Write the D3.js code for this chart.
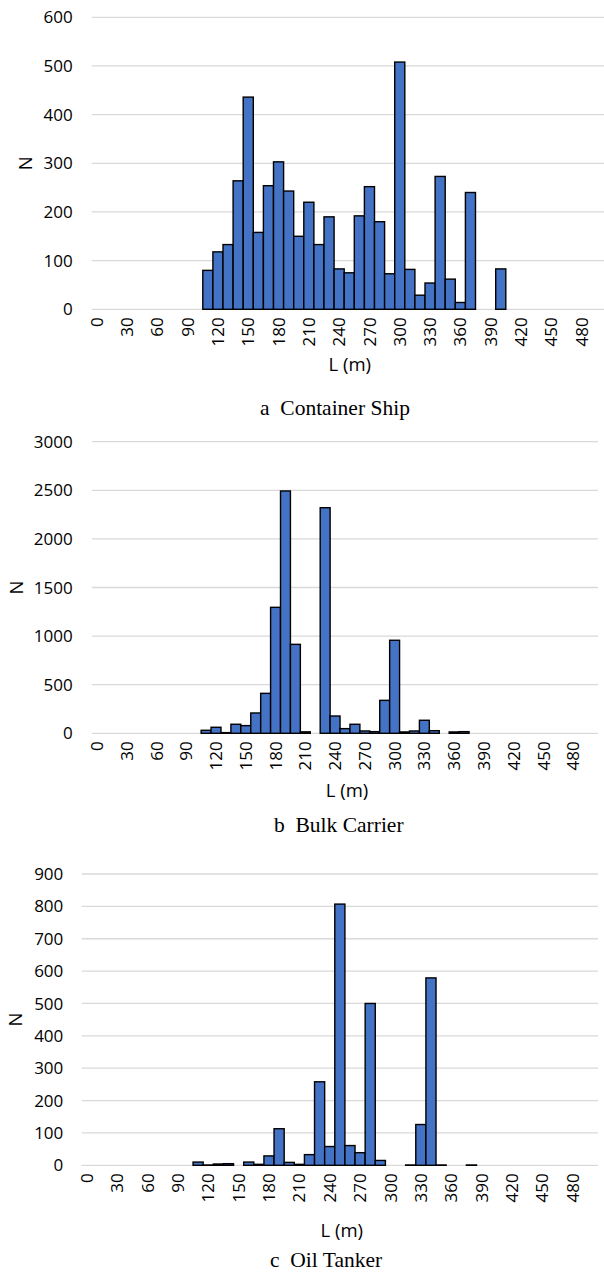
<!DOCTYPE html>
<html>
<head>
<meta charset="utf-8">
<script src="https://cdn.jsdelivr.net/npm/d3@7"></script>
<style>
  html, body { margin: 0; padding: 0; background: #fff; }
  svg { display: block; }
  .tick-label { font-family: "Open Sans", sans-serif; font-size: 17px; fill: #000; }
  .axis-title { font-family: "Open Sans", sans-serif; font-size: 18.5px; fill: #000; }
  .caption { font-family: "Liberation Serif", "Times New Roman", serif; font-size: 21.5px; fill: #000; white-space: pre; }
</style>
</head>
<body>
<svg id="chart" width="604" height="1273"></svg>
<script>
// Length classes (m), 10 m bins
const lengths = [0, 10, 20, 30, 40, 50, 60, 70, 80, 90,
  100, 110, 120, 130, 140, 150, 160, 170, 180, 190,
  200, 210, 220, 230, 240, 250, 260, 270, 280, 290,
  300, 310, 320, 330, 340, 350, 360, 370, 380, 390,
  400, 410, 420, 430, 440, 450, 460, 470, 480, 490, 500];

// Labelled length ticks
const lengthTicks = [0, 30, 60, 90, 120, 150, 180, 210, 240, 270, 300, 330, 360, 390, 420, 450, 480];

// Number of ships per length class
const containerShip = [0, 0, 0, 0, 0, 0, 0, 0, 0, 0,
  0, 80, 118, 133, 264, 436, 158, 254, 303, 243,
  150, 220, 133, 190, 83, 75, 192, 252, 180, 73,
  508, 82, 29, 54, 273, 62, 14, 240, 0, 0,
  83, 0, 0, 0, 0, 0, 0, 0, 0, 0, 0];

const bulkCarrier = [0, 0, 0, 0, 0, 0, 0, 0, 0, 0,
  0, 31, 62, 7, 93, 79, 209, 411, 1296, 2493,
  915, 15, 0, 2321, 178, 48, 93, 24, 17, 339,
  957, 14, 24, 134, 27, 0, 14, 17, 0, 0,
  0, 0, 0, 0, 0, 0, 0, 0, 0, 0, 0];

const oilTanker = [0, 0, 0, 0, 0, 0, 0, 0, 0, 0,
  0, 10, 1, 4, 5, 0, 10, 3, 29, 113,
  9, 3, 33, 258, 58, 807, 61, 39, 500, 15,
  0, 0, 1, 126, 579, 1, 0, 0, 1, 0,
  0, 0, 0, 0, 0, 0, 0, 0, 0, 0, 0];

// Count axis ticks for each panel
const containerTicks = [0, 100, 200, 300, 400, 500, 600];
const bulkTicks = [0, 500, 1000, 1500, 2000, 2500, 3000];
const tankerTicks = [0, 100, 200, 300, 400, 500, 600, 700, 800, 900];

const captions = ["a  Container Ship", "b  Bulk Carrier", "c  Oil Tanker"];

const svg = d3.select("#chart");

const panels = [
  { values: containerShip, ticks: containerTicks, caption: captions[0],
    x0: 91.7, x1: 606.8, yTop: 17.3, yBase: 309.3, labelRight: 72.7, nX: 25,
    titleY: 371, captionX: 260, captionY: 414.5 },
  { values: bulkCarrier, ticks: bulkTicks, caption: captions[1],
    x0: 92, x1: 598, yTop: 441.7, yBase: 733.3, labelRight: 72.7, nX: 16,
    titleY: 797, captionX: 274, captionY: 832 },
  { values: oilTanker, ticks: tankerTicks, caption: captions[2],
    x0: 81.7, x1: 598, yTop: 874, yBase: 1165.3, labelRight: 63.3, nX: 15,
    titleY: 1237, captionX: 270, captionY: 1266.5 }
];

panels.forEach(p => {
  const g = svg.append("g");

  const x = d3.scaleBand().domain(lengths).range([p.x0, p.x1]).paddingInner(0).paddingOuter(0);
  const y = d3.scaleLinear().domain([0, d3.max(p.ticks)]).range([p.yBase, p.yTop]);

  // Horizontal gridlines
  g.append("g").selectAll("line").data(p.ticks).join("line")
    .attr("x1", p.x0).attr("x2", p.x1)
    .attr("y1", d => y(d)).attr("y2", d => y(d))
    .attr("stroke", "#d9d9d9").attr("stroke-width", 1.3);

  // Count tick labels
  g.append("g").selectAll("text").data(p.ticks).join("text")
    .attr("class", "tick-label")
    .attr("x", p.labelRight)
    .attr("y", d => y(d))
    .attr("dy", "0.36em")
    .attr("text-anchor", "end")
    .text(d => d);

  // Bars
  const data = lengths.map((L, i) => ({ L, n: p.values[i] })).filter(d => d.n > 0);
  g.append("g").selectAll("rect").data(data).join("rect")
    .attr("x", d => x(d.L))
    .attr("width", x.bandwidth())
    .attr("y", d => y(d.n))
    .attr("height", d => y(0) - y(d.n))
    .attr("fill", "#4472c4")
    .attr("stroke", "#000")
    .attr("stroke-width", 1.4);

  // Length tick labels, rotated
  g.append("g").selectAll("text").data(lengthTicks).join("text")
    .attr("class", "tick-label")
    .attr("transform", d => `translate(${x(d) + x.bandwidth() / 2},${p.yBase + 8}) rotate(-90)`)
    .attr("text-anchor", "end")
    .attr("dy", "0.36em")
    .text(d => d);

  // Axis titles
  g.append("text")
    .attr("class", "axis-title")
    .attr("transform", `translate(${p.nX},${(p.yTop + p.yBase) / 2}) rotate(-90)`)
    .attr("text-anchor", "middle")
    .attr("dy", "0.36em")
    .text("N");

  g.append("text")
    .attr("class", "axis-title")
    .attr("x", (p.x0 + Math.min(p.x1, 604)) / 2 + 2)
    .attr("y", p.titleY)
    .attr("text-anchor", "middle")
    .text("L (m)");

  // Panel caption
  g.append("text")
    .attr("class", "caption")
    .attr("x", p.captionX)
    .attr("y", p.captionY)
    .text(p.caption);
});
</script>
</body>
</html>
